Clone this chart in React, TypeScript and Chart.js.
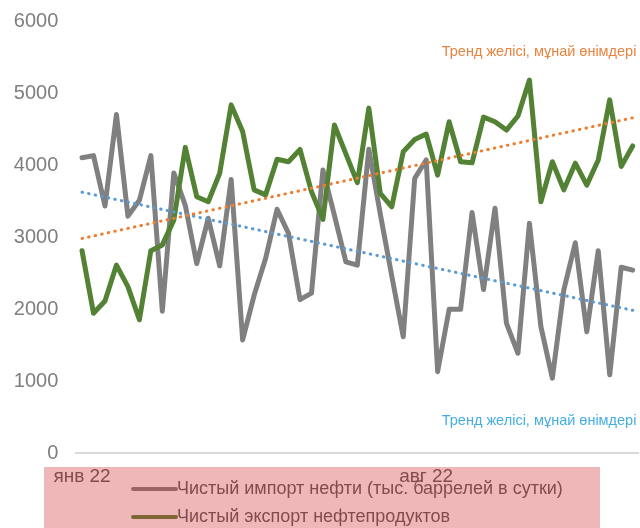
import React, { useEffect, useRef } from 'react';
import { Chart, registerables } from 'chart.js';

Chart.register(...registerables);

// Weekly figures, thousand barrels per day
const netCrudeImport = [
  4100, 4130, 3430, 4700, 3290, 3510, 4130, 1970, 3890, 3440,
  2630, 3260, 2600, 3800, 1570, 2190, 2700, 3385, 3050, 2130,
  2220, 3930, 3300, 2655, 2610, 4220, 3320, 2460, 1615, 3815,
  4070, 1130, 1995, 1995, 3340, 2270, 3400, 1800, 1385, 3190,
  1755, 1040, 2265, 2920, 1685, 2810, 1085, 2580, 2540,
];

const netProductExport = [
  2810, 1940, 2110, 2610, 2310, 1850, 2810, 2890, 3235, 4245,
  3560, 3490, 3885, 4835, 4465, 3655, 3585, 4080, 4045, 4215,
  3630, 3245, 4555, 4155, 3755, 4790, 3605, 3420, 4185, 4355,
  4430, 3860, 4600, 4045, 4030, 4665, 4600, 4485, 4680, 5180,
  3490, 4045, 3655, 4025, 3720, 4070, 4905, 3980, 4265,
];

// Month captions shown on the category axis (week index -> text)
const monthTickIndex = [0, 30];
const monthTickText = ['янв 22', 'авг 22'];

const seriesNames = [
  'Чистый импорт нефти (тыс. баррелей в сутки)',
  'Чистый экспорт нефтепродуктов',
];
const trendCaption = 'Тренд желісі, мұнай өнімдері';

const yMin = 0;
const yMax = 6000;
const yStep = 1000;

const GRAY = '#808080';
const GREEN = '#548235';
const ORANGE = '#ED7D31';
const BLUE = '#5B9BD5';

const FONT = '"Liberation Sans", Arial, sans-serif';

const weekLabels = netCrudeImport.map((_, i) => {
  const k = monthTickIndex.indexOf(i);
  return k >= 0 ? monthTickText[k] : '';
});

// Least-squares linear trend over the week index
function linearTrend(values: number[]): number[] {
  const n = values.length;
  let sx = 0, sy = 0, sxx = 0, sxy = 0;
  values.forEach((v, i) => {
    sx += i; sy += v; sxx += i * i; sxy += i * v;
  });
  const b = (n * sxy - sx * sy) / (n * sxx - sx * sx);
  const a = (sy - b * sx) / n;
  return values.map((_, i) => a + b * i);
}

const legendBand = {
  id: 'legendBand',
  afterDraw(chart: any) {
    const ctx: CanvasRenderingContext2D = chart.ctx;
    const area = chart.chartArea;
    ctx.save();

    // trend captions
    ctx.font = `14.5px ${FONT}`;
    ctx.textAlign = 'right';
    ctx.textBaseline = 'middle';
    ctx.fillStyle = '#E8843F';
    ctx.fillText(trendCaption, area.right - 2, 52);
    ctx.fillStyle = '#45AEE6';
    ctx.fillText(trendCaption, area.right - 2, 421);

    // legend entries
    const entries = [
      { name: seriesNames[0], color: GRAY },
      { name: seriesNames[1], color: GREEN },
    ];
    ctx.font = `18px ${FONT}`;
    ctx.textAlign = 'left';
    entries.forEach((e, k) => {
      const y = 489 + k * 28;
      ctx.strokeStyle = e.color;
      ctx.lineWidth = 4;
      ctx.lineCap = 'round';
      ctx.beginPath();
      ctx.moveTo(133, y);
      ctx.lineTo(176, y);
      ctx.stroke();
      ctx.fillStyle = '#595959';
      ctx.fillText(e.name, 177, y);
    });

    // translucent band over axis captions and legend
    ctx.fillStyle = 'rgba(209, 52, 52, 0.35)';
    ctx.fillRect(44, 467, 556, 61);
    ctx.restore();
  },
};

export default function App() {
  const canvasRef = useRef<HTMLCanvasElement | null>(null);

  useEffect(() => {
    const canvas = canvasRef.current;
    if (!canvas) return;
    const chart = new Chart(canvas, {
      type: 'line',
      data: {
        labels: weekLabels,
        datasets: [
          {
            label: trendCaption,
            data: linearTrend(netProductExport),
            borderColor: ORANGE,
            borderWidth: 3,
            borderDash: [0.5, 6.2],
            borderCapStyle: 'round',
            pointRadius: 0,
            fill: false,
            order: 0,
          },
          {
            label: trendCaption,
            data: linearTrend(netCrudeImport),
            borderColor: BLUE,
            borderWidth: 3,
            borderDash: [0.5, 6.2],
            borderCapStyle: 'round',
            pointRadius: 0,
            fill: false,
            order: 0,
          },
          {
            label: seriesNames[1],
            data: netProductExport,
            borderColor: GREEN,
            borderWidth: 5,
            borderJoinStyle: 'round',
            borderCapStyle: 'round',
            pointRadius: 0,
            tension: 0,
            fill: false,
            order: 1,
          },
          {
            label: seriesNames[0],
            data: netCrudeImport,
            borderColor: GRAY,
            borderWidth: 5,
            borderJoinStyle: 'round',
            borderCapStyle: 'round',
            pointRadius: 0,
            tension: 0,
            fill: false,
            order: 2,
          },
        ],
      },
      options: {
        responsive: false,
        animation: false,
        devicePixelRatio: 1,
        layout: { padding: { top: 21, right: 1.6, left: 0, bottom: 0 } },
        plugins: {
          legend: { display: false },
          tooltip: { enabled: false },
          title: { display: false },
        },
        scales: {
          x: {
            type: 'category',
            offset: true,
            grid: { display: false, drawTicks: false },
            border: { display: true, color: '#D9D9D9', width: 2 },
            ticks: {
              autoSkip: false,
              maxRotation: 0,
              minRotation: 0,
              padding: 12,
              color: '#595959',
              font: { family: FONT, size: 19 },
            },
            afterFit: (scale: any) => {
              scale.height = 75;
              scale.paddingLeft = 0;
              scale.paddingRight = 0;
            },
          },
          y: {
            min: yMin,
            max: yMax,
            grid: { display: false, drawTicks: false },
            border: { display: false },
            ticks: {
              stepSize: yStep,
              padding: 18,
              color: '#7F7F7F',
              font: { family: FONT, size: 20 },
              callback: (v: any) => String(v),
            },
            afterFit: (scale: any) => {
              scale.width = 76.3;
              scale.paddingTop = 0;
              scale.paddingBottom = 0;
            },
          },
        },
      },
      plugins: [legendBand],
    });
    return () => chart.destroy();
  }, []);

  return (
    <div style={{ position: 'absolute', left: 0, top: 0, width: 640, height: 528, background: '#fff' }}>
      <canvas ref={canvasRef} width={640} height={528} />
    </div>
  );
}
